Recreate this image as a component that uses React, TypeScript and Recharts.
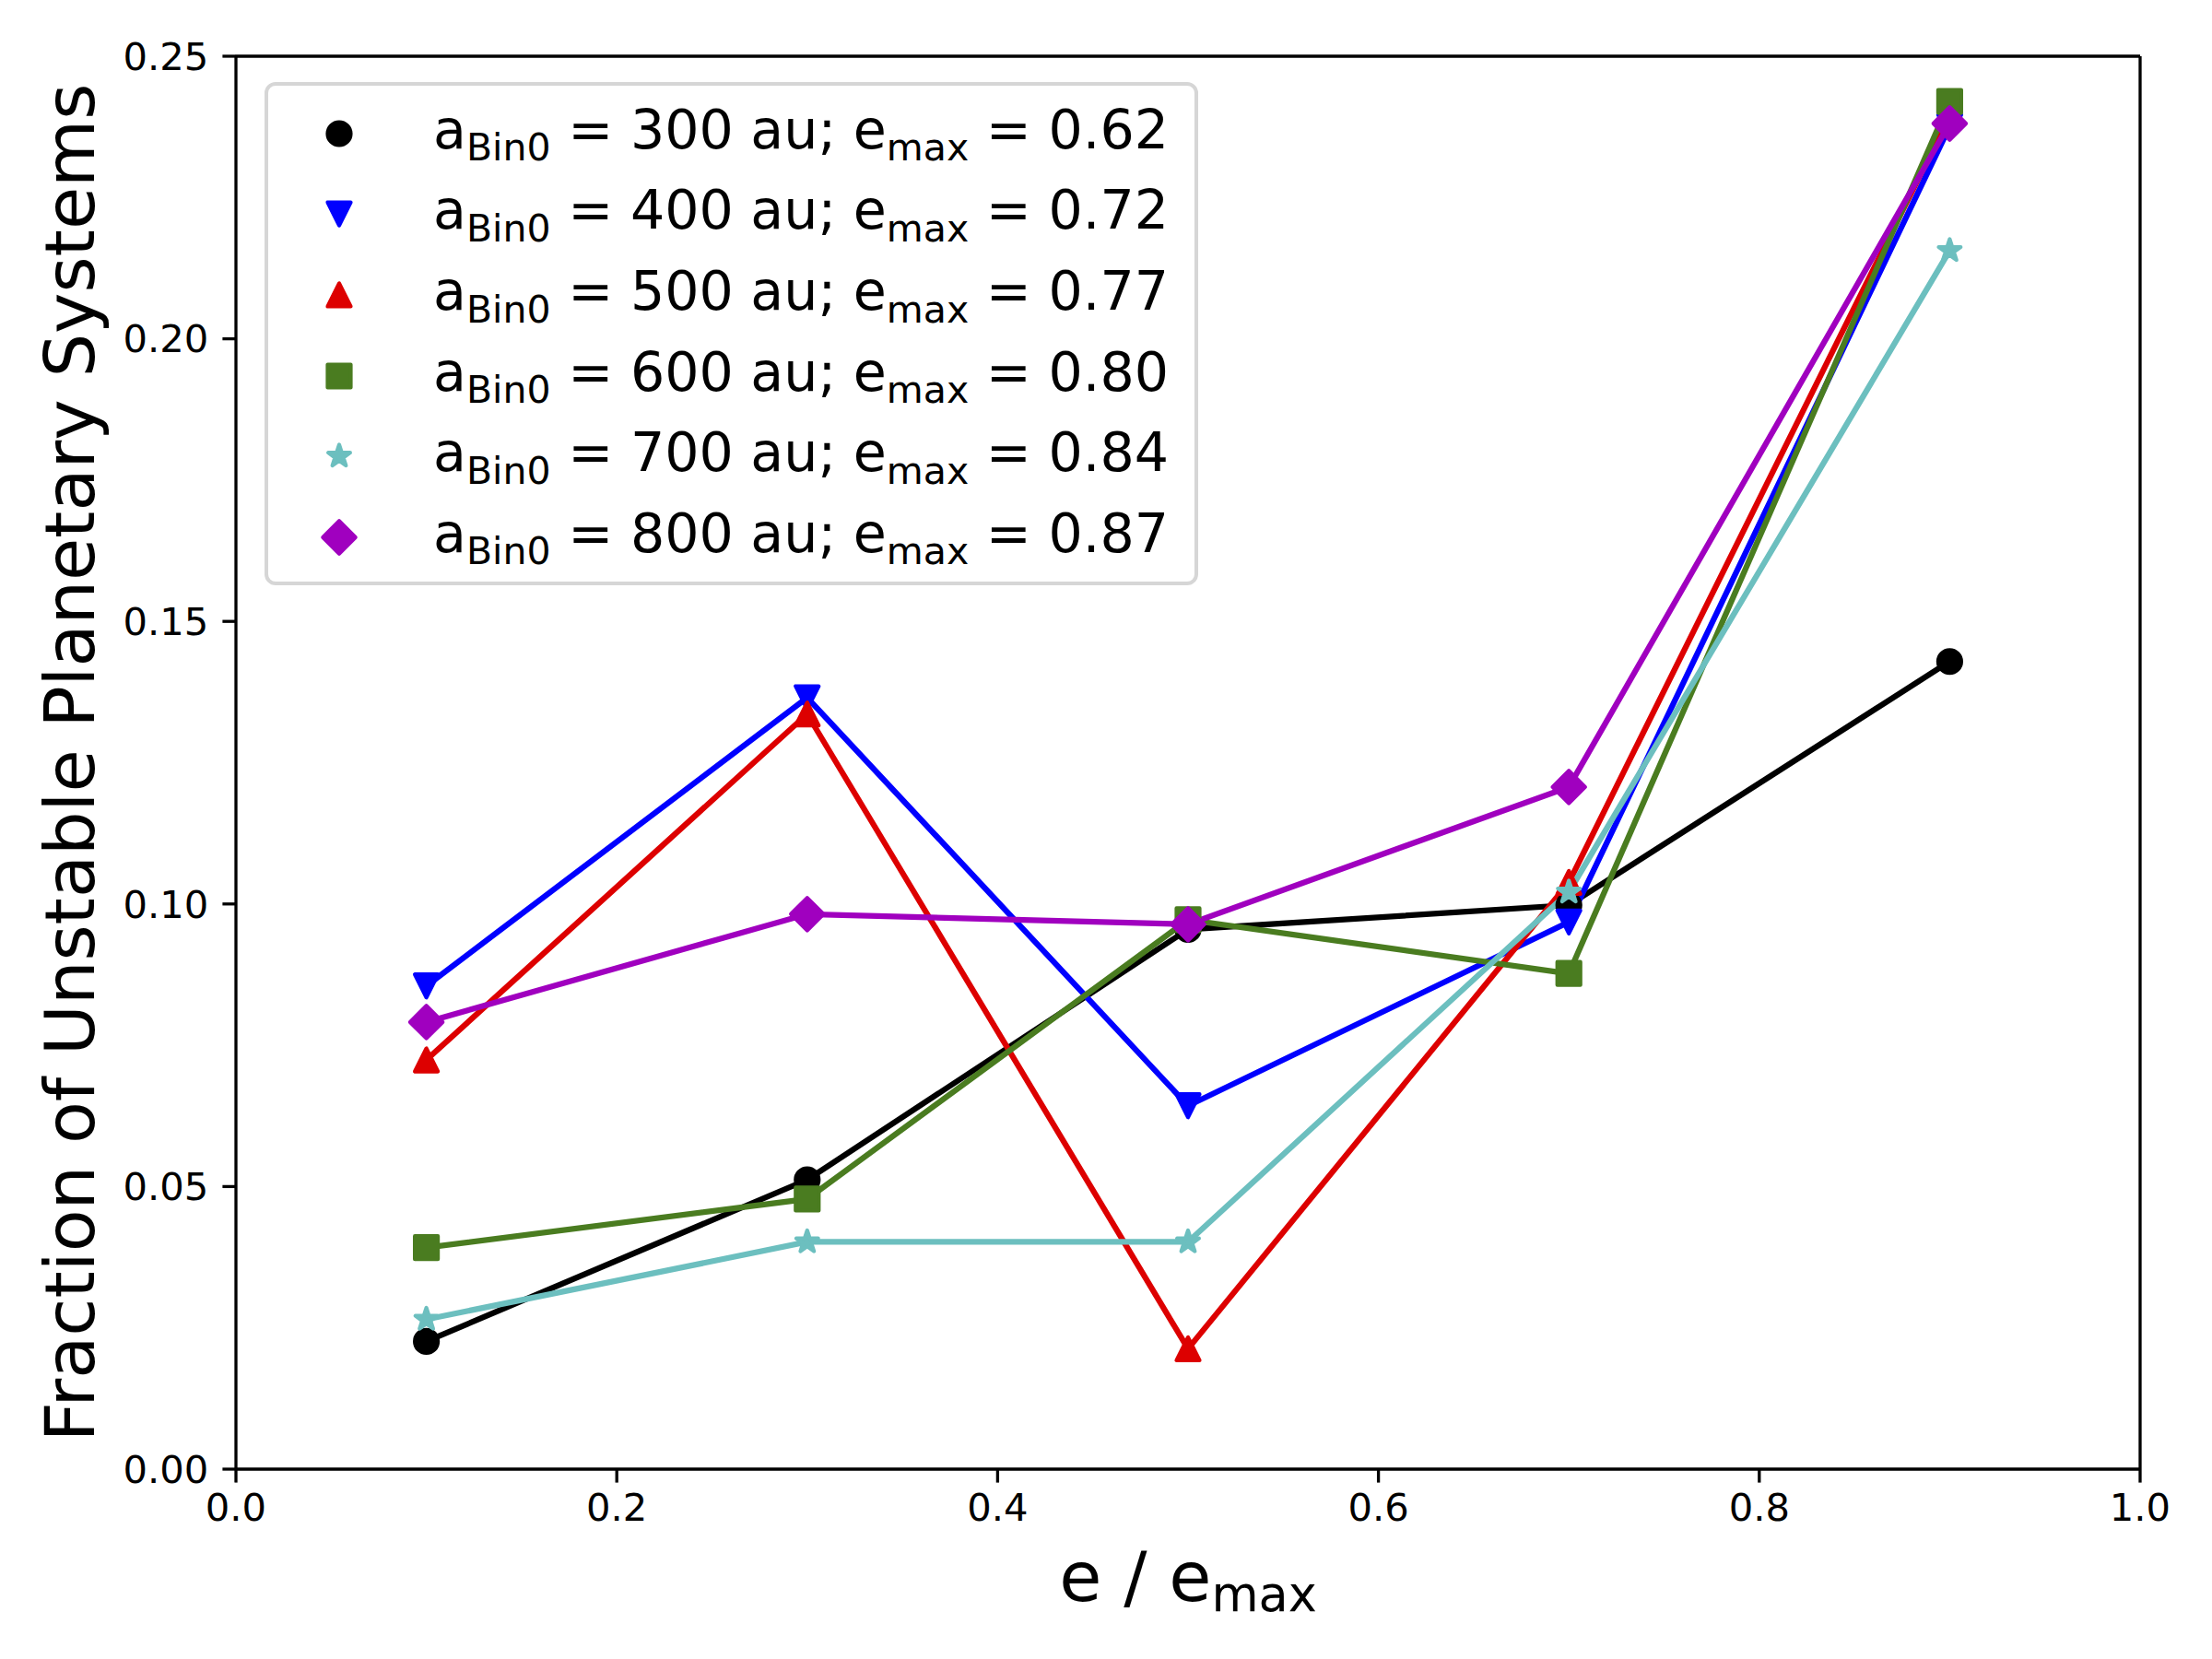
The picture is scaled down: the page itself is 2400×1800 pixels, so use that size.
import {
  LineChart,
  Line,
  XAxis,
  YAxis,
  Legend,
  Label,
  ReferenceLine,
} from "recharts";

// e / e_max sample positions
const eRatio = [0.1, 0.3, 0.5, 0.7, 0.9];

const au300 = [0.0226, 0.0512, 0.0955, 0.0998, 0.1429];
const au400 = [0.0855, 0.1365, 0.0643, 0.0968, 0.2376];
const au500 = [0.0724, 0.1336, 0.0213, 0.1038, 0.2395];
const au600 = [0.0392, 0.0478, 0.0972, 0.0877, 0.242];
const au700 = [0.0265, 0.0402, 0.0402, 0.1021, 0.2156];
const au800 = [0.0791, 0.0982, 0.0964, 0.1207, 0.2381];

const xTicks = [0, 0.2, 0.4, 0.6, 0.8, 1.0];
const yTicks = [0, 0.05, 0.1, 0.15, 0.2, 0.25];

const seriesKeys = ["s300", "s400", "s500", "s600", "s700", "s800"];
const seriesDist = ["300", "400", "500", "600", "700", "800"];
const seriesEmax = ["0.62", "0.72", "0.77", "0.80", "0.84", "0.87"];
const seriesColors = ["#000000", "#0000ff", "#dd0000", "#4a7c20", "#6cbfbf", "#a000bf"];
const seriesShapes = ["circle", "triDown", "triUp", "square", "star", "diamond"];

const allValues = [au300, au400, au500, au600, au700, au800];

const data = eRatio.map((x, i) => {
  const row: Record<string, number> = { x };
  seriesKeys.forEach((k, j) => {
    row[k] = allValues[j][i];
  });
  return row;
});

const FONT = "'DejaVu Sans', sans-serif";
const W = 2400;
const H = 1800;
const PLOT_LEFT = 256;
const PLOT_TOP = 61;
const PLOT_RIGHT = 2322;
const PLOT_BOTTOM = 1594;

function starPoints(cx: number, cy: number, r: number) {
  const inner = r * 0.381966;
  const pts: string[] = [];
  for (let i = 0; i < 10; i++) {
    const rad = i % 2 === 0 ? r : inner;
    const a = (Math.PI / 5) * i - Math.PI / 2;
    pts.push(`${cx + rad * Math.cos(a)},${cy + rad * Math.sin(a)}`);
  }
  return pts.join(" ");
}

function Marker({ shape, cx, cy, color }: { shape: string; cx: number; cy: number; color: string }) {
  const s = 12.5;
  const common = { fill: color, stroke: color, strokeWidth: 4.2, strokeLinejoin: "round" as const };
  switch (shape) {
    case "circle":
      return <circle cx={cx} cy={cy} r={s} {...common} />;
    case "triDown":
      return <polygon points={`${cx - s},${cy - s} ${cx + s},${cy - s} ${cx},${cy + s}`} {...common} />;
    case "triUp":
      return <polygon points={`${cx - s},${cy + s} ${cx + s},${cy + s} ${cx},${cy - s}`} {...common} />;
    case "square":
      return <rect x={cx - s} y={cy - s} width={2 * s} height={2 * s} {...common} />;
    case "diamond": {
      const d = s * Math.SQRT2;
      return <polygon points={`${cx},${cy - d} ${cx + d},${cy} ${cx},${cy + d} ${cx - d},${cy}`} {...common} />;
    }
    default:
      return <polygon points={starPoints(cx, cy, s)} {...common} />;
  }
}

const subStyle = { fontSize: "0.7em", position: "relative" as const, top: "0.33em" };

function renderLegend() {
  return (
    <div
      style={{
        boxSizing: "border-box",
        width: 1013,
        height: 546,
        border: "4px solid #d6d6d6",
        borderRadius: 12,
        background: "rgba(255,255,255,0.8)",
        fontFamily: FONT,
        fontSize: 58.6,
        color: "#000",
        paddingTop: 8,
      }}
    >
      {seriesKeys.map((k, i) => (
        <div key={k} style={{ display: "flex", alignItems: "center", height: 87.6, whiteSpace: "nowrap" }}>
          <svg width={179} height={60} style={{ flex: "none" }}>
            <Marker shape={seriesShapes[i]} cx={77} cy={30} color={seriesColors[i]} />
          </svg>
          <span style={{ marginTop: -8 }}>
            a<span style={subStyle}>Bin0</span> = {seriesDist[i]} au; e
            <span style={subStyle}>max</span> = {seriesEmax[i]}
          </span>
        </div>
      ))}
    </div>
  );
}

export default function App() {
  const tickStyle = { fontSize: 41.7, fontFamily: FONT, fill: "#000" };
  const axisLine = { stroke: "#000", strokeWidth: 3.3 };
  const midY = (PLOT_TOP + PLOT_BOTTOM) / 2;
  return (
    <div style={{ position: "absolute", left: 0, top: 0, width: W, height: H, background: "#fff" }}>
      <LineChart
        width={W}
        height={H}
        data={data}
        margin={{ top: PLOT_TOP, right: W - PLOT_RIGHT, bottom: 0, left: 0 }}
      >
        <XAxis
          dataKey="x"
          type="number"
          domain={[0, 1]}
          ticks={xTicks}
          tickFormatter={(v: number) => v.toFixed(1)}
          tick={tickStyle}
          tickSize={14.6}
          tickMargin={12}
          axisLine={axisLine}
          tickLine={axisLine}
          height={H - PLOT_BOTTOM}
          interval={0}
        >
          <Label
            content={() => (
              <text x={(PLOT_LEFT + PLOT_RIGHT) / 2} y={1737} textAnchor="middle" fontFamily={FONT} fontSize={75} fill="#000">
                e / e
                <tspan fontSize={52.5} dy={11}>
                  max
                </tspan>
              </text>
            )}
          />
        </XAxis>
        <YAxis
          type="number"
          domain={[0, 0.25]}
          ticks={yTicks}
          tickFormatter={(v: number) => v.toFixed(2)}
          tick={tickStyle}
          tickSize={14.6}
          tickMargin={15}
          axisLine={axisLine}
          tickLine={axisLine}
          width={PLOT_LEFT}
          interval={0}
        >
          <Label
            content={() => (
              <text
                x={102}
                y={midY}
                transform={`rotate(-90 102 ${midY})`}
                textAnchor="middle"
                fontFamily={FONT}
                fontSize={75}
                fill="#000"
              >
                Fraction of Unstable Planetary Systems
              </text>
            )}
          />
        </YAxis>
        <ReferenceLine y={0.25} stroke="#000" strokeWidth={3.3} />
        <ReferenceLine x={1} stroke="#000" strokeWidth={3.3} />
        <Legend
          layout="vertical"
          align="center"
          verticalAlign="middle"
          content={renderLegend}
          wrapperStyle={{ position: "absolute", left: 287, top: 89, width: 1013, height: 546 }}
        />
        {seriesKeys.map((k, i) => (
          <Line
            key={k}
            dataKey={k}
            name={k}
            stroke={seriesColors[i]}
            strokeWidth={6.25}
            isAnimationActive={false}
            dot={(p: any) => (
              <Marker key={`${k}-${p.index}`} shape={seriesShapes[i]} cx={p.cx} cy={p.cy} color={seriesColors[i]} />
            )}
            activeDot={false}
          />
        ))}
      </LineChart>
    </div>
  );
}
